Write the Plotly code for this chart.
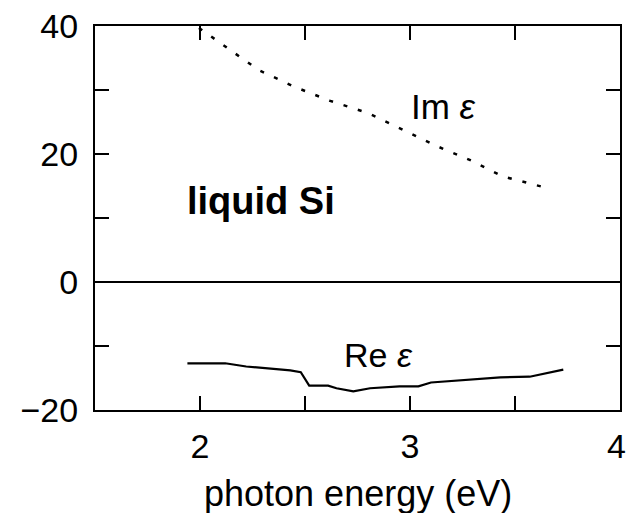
import plotly.graph_objects as go

# photon energy (eV) and dielectric function of liquid Si
energy_im = [1.995, 2.14, 2.28, 2.45, 2.62, 2.80, 2.95, 3.13, 3.29, 3.44, 3.64]
im_eps = [39.7, 36.3, 33.1, 30.5, 28.3, 26.4, 24.0, 21.2, 19.0, 16.5, 14.8]

energy_re = [1.94, 2.12, 2.22, 2.32, 2.43, 2.48, 2.52, 2.61, 2.65, 2.73, 2.81,
             2.95, 3.04, 3.10, 3.24, 3.43, 3.57, 3.64, 3.73]
re_eps = [-12.7, -12.7, -13.2, -13.5, -13.8, -14.1, -16.2, -16.2, -16.6, -17.1, -16.6,
          -16.3, -16.3, -15.7, -15.4, -14.9, -14.8, -14.3, -13.7]

x_tickvals = [2, 2.5, 3, 3.5, 4]
x_ticktext = ["2", "", "3", "", ""]
x_edge_label = "4"
x_title = "photon energy (eV)"
y_tickvals = [-20, -10, 0, 10, 20, 30, 40]
y_ticktext = ["\u221220", "", "0", "", "20", "", "40"]

FONT = "Liberation Sans, Arial, Helvetica, sans-serif"

fig = go.Figure()
fig.add_trace(go.Scatter(x=energy_im, y=im_eps, mode="lines",
                         line=dict(color="black", width=2.5, dash="4px,11px"),
                         showlegend=False, hoverinfo="skip"))
fig.add_trace(go.Scatter(x=energy_re, y=re_eps, mode="lines",
                         line=dict(color="black", width=2.2, shape="linear"),
                         showlegend=False, hoverinfo="skip"))

fig.add_annotation(x=3.16, y=27.4, text="Im <i>\u03b5</i>", showarrow=False,
                   font=dict(size=35, family=FONT, color="black"))
fig.add_annotation(x=2.85, y=-11.4, text="Re <i>\u03b5</i>", showarrow=False,
                   font=dict(size=34, family=FONT, color="black"))
fig.add_annotation(x=2.29, y=12.7, text="<b>liquid Si</b>", showarrow=False,
                   font=dict(size=38, family=FONT, color="black"))
# last x tick label, kept inside the page like the reference
fig.add_annotation(x=x_tickvals[-1], y=-20, yref="y", text=x_edge_label, showarrow=False,
                   xanchor="center", yanchor="top", xshift=-4, yshift=-15,
                   font=dict(size=34, family=FONT, color="black"))
# x-axis title, placed low like the reference
fig.add_annotation(x=0.5, xref="paper", y=0, yref="paper", text=x_title, showarrow=False,
                   xanchor="center", yanchor="middle", yshift=-83,
                   font=dict(size=36, family=FONT, color="black"))

axis_common = dict(showline=True, linecolor="black", linewidth=2, mirror="ticks",
                   ticks="inside", ticklen=14, tickwidth=2, tickcolor="black",
                   showgrid=False, automargin=False, ticklabeloverflow="allow",
                   tickfont=dict(size=34, family=FONT, color="black"))

fig.update_xaxes(range=[1.5, 4.0], tickmode="array", tickvals=x_tickvals, ticktext=x_ticktext,
                 zeroline=False, ticklabelstandoff=5,
                 **axis_common)
fig.update_yaxes(range=[-20, 40], tickmode="array", tickvals=y_tickvals, ticktext=y_ticktext,
                 zeroline=True, zerolinecolor="black", zerolinewidth=2,
                 ticklabelstandoff=8,
                 **axis_common)

fig.update_layout(width=627, height=513, margin=dict(l=95, r=7, t=26, b=103),
                  paper_bgcolor="white", plot_bgcolor="white",
                  font=dict(family=FONT, color="black"))

fig.write_html("out.html", config={"displayModeBar": False},
               post_script="document.body.style.margin='0';"
                           "document.documentElement.style.overflow='hidden';")
